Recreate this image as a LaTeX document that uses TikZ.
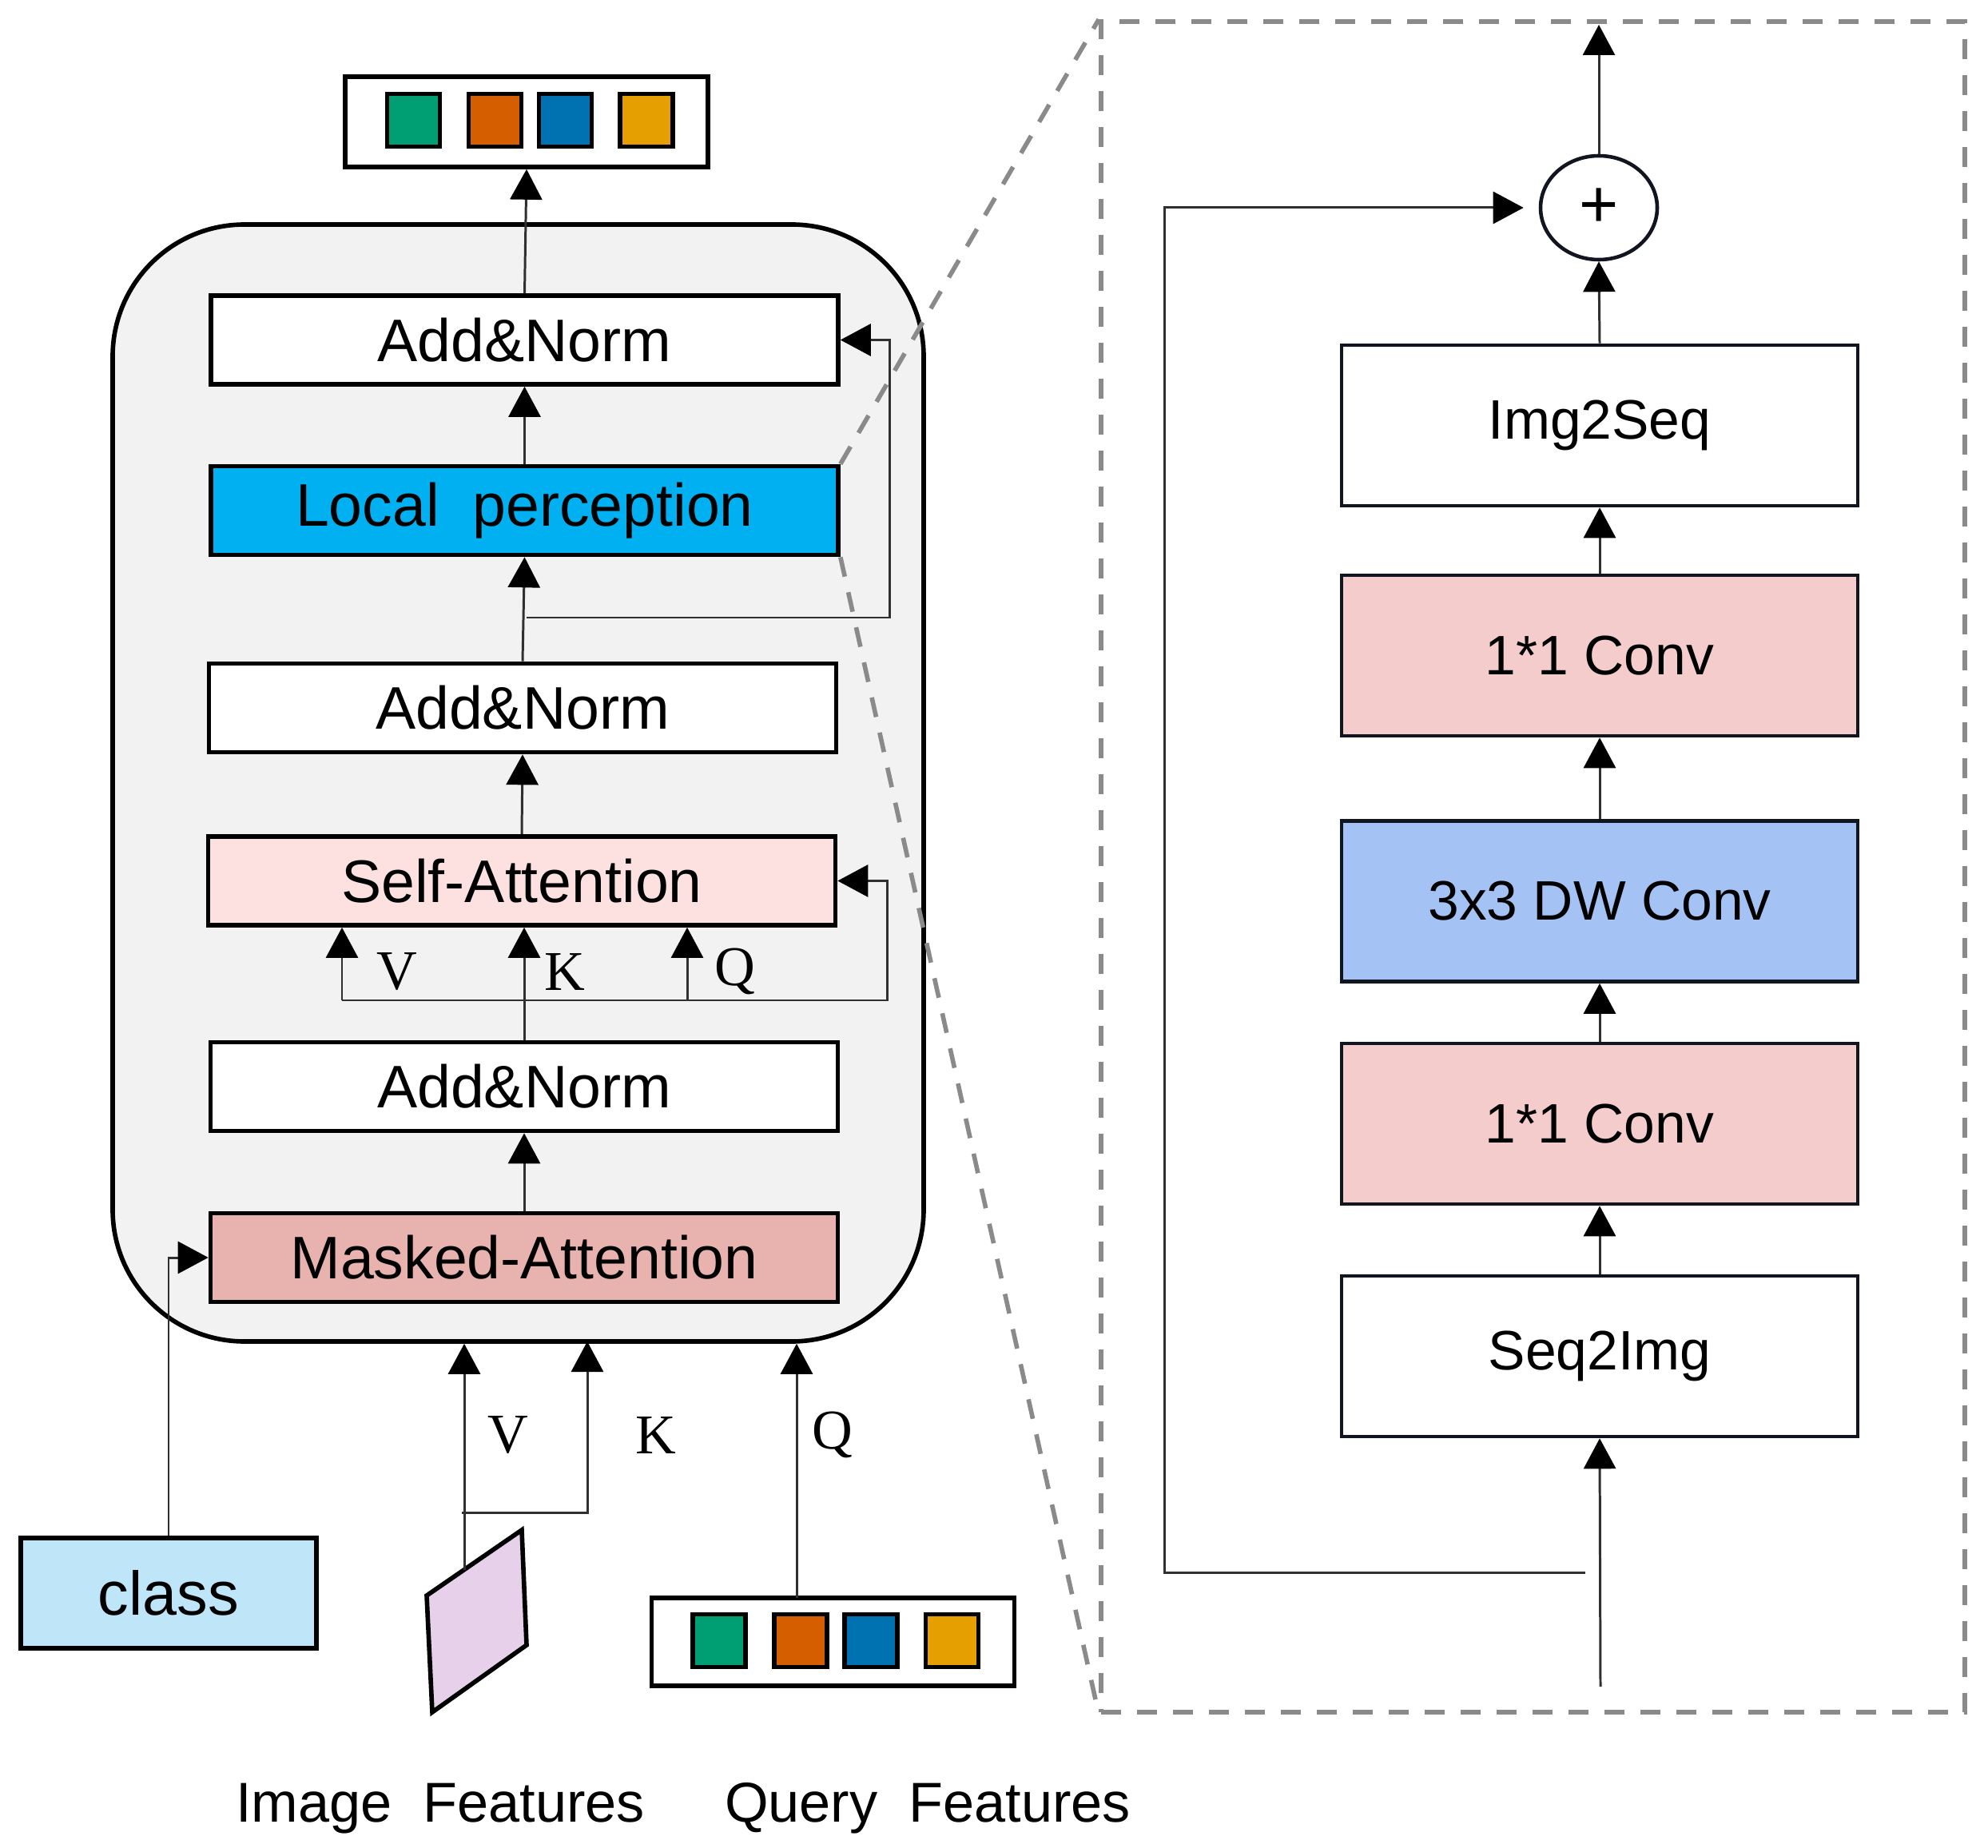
\documentclass[tikz,border=0pt]{standalone}
\usepackage{fontspec}
\setmainfont{Liberation Sans}
\newfontfamily\letterfont{Liberation Serif}
\usetikzlibrary{arrows.meta,shapes.geometric}

\definecolor{boxgray}{HTML}{F2F2F2}
\definecolor{lpcyan}{HTML}{00B0F0}
\definecolor{sapink}{HTML}{FDE0E0}
\definecolor{mapink}{HTML}{E8B2AF}
\definecolor{classblue}{HTML}{BEE5F8}
\definecolor{imgpurple}{HTML}{E7D1EA}
\definecolor{tokgreen}{HTML}{009E73}
\definecolor{tokorange}{HTML}{D55E00}
\definecolor{tokblue}{HTML}{0072B2}
\definecolor{tokyellow}{HTML}{E69F00}
\definecolor{convpink}{HTML}{F4CCCC}
\definecolor{dwblue}{HTML}{A4C2F4}
\definecolor{linecol}{HTML}{303030}
\definecolor{boxline}{HTML}{10151F}
\definecolor{zoomgray}{HTML}{8A8A8A}

\begin{document}
\begin{tikzpicture}[
>={Triangle[length=0.38cm,width=0.40cm,color=black]},
layer/.style={rectangle, draw, line width=1.6pt, minimum width=7.85cm, minimum height=1.11cm, inner sep=0pt, font=\fontsize{21.4}{25}\selectfont},
conv/.style={rectangle, draw=boxline, line width=1.3pt, minimum width=6.46cm, minimum height=2.01cm, inner sep=0pt, font=\fontsize{19.8}{23}\selectfont},
token/.style={rectangle, draw, line width=1.6pt, minimum size=0.66cm, inner sep=0pt},
tray/.style={rectangle, draw, line width=1.6pt, minimum width=4.54cm, minimum height=1.13cm},
link/.style={line width=0.85pt, draw=linecol},
zoomline/.style={draw=zoomgray, line width=1.6pt, dash pattern=on 0.25cm off 0.2cm},
letter/.style={font=\letterfont\fontsize{20}{24}\selectfont},
caption/.style={anchor=base, font=\fontsize{20}{24}\selectfont}
]
\useasboundingbox (0,0) rectangle (24.88,-23.13);

\node[draw, line width=1.6pt, fill=boxgray, rounded corners=1.65cm, minimum width=10.15cm, minimum height=13.98cm] (decoder) at (6.485,-9.80) {};

\node[tray] (outtray) at (6.59,-1.525) {};
\foreach \c/\x [count=\i] in {tokgreen/5.175, tokorange/6.195, tokblue/7.075, tokyellow/8.09}
  \node[token, fill=\c] (out\i) at (\x,-1.505) {};

\node[layer, fill=white] (an3) at (6.565,-4.255) {Add\&Norm};
\node[layer, fill=lpcyan] (lp) at (6.565,-6.39) {Local\ \ perception};
\node[layer, fill=white] (an2) at (6.54,-8.86) {Add\&Norm};
\node[layer, fill=sapink] (sa) at (6.53,-11.025) {Self-Attention};
\node[layer, fill=white] (an1) at (6.56,-13.60) {Add\&Norm};
\node[layer, fill=mapink] (ma) at (6.56,-15.74) {Masked-Attention};

\draw[link,->] (an3.north) -- (outtray.south);
\draw[link,->] (lp.north) -- (an3.south);
\draw[link,->] (an2.north) -- (lp.south);
\draw[link,->] (sa.north) -- (an2.south);
\draw[link,->] (ma.north) -- (an1.south);

\coordinate (res) at (6.59,-7.73);
\draw[link,->] (res) -- (11.13,-7.73) |- (an3.east);

\coordinate (vbase) at (4.28,-12.52);
\coordinate (qbase) at (8.60,-12.52);
\draw[link,->] (vbase) -- (11.10,-12.52) |- (sa.east);
\draw[link,->] (vbase) -- (vbase |- sa.south);
\draw[link,->] (qbase) -- (qbase |- sa.south);
\draw[link,->] (an1.north) -- (an1.north |- sa.south);
\node[letter] (sv) at (4.97,-12.16) {V};
\node[letter] (sk) at (7.07,-12.16) {K};
\node[letter] (sq) at (9.20,-12.16) {Q};

\node[draw, line width=1.6pt, fill=classblue, minimum width=3.70cm, minimum height=1.38cm, font=\fontsize{22}{26}\selectfont] (cls) at (2.11,-19.94) {class};
\draw[link,->] (cls.north) |- (ma.west);

\draw[line width=1.6pt, fill=imgpurple] (5.34,-19.97) -- (6.53,-19.15) -- (6.59,-20.59) -- (5.41,-21.43) -- cycle;
\coordinate (imgtop) at (5.81,-19.65);
\coordinate (kfork) at (5.78,-18.93);
\coordinate (kin) at (7.35,-16.79);
\draw[link,->] (imgtop) -- (imgtop |- decoder.south);
\draw[link,->] (kfork) -| (kin);

\node[tray, minimum height=1.10cm] (qtray) at (10.425,-20.55) {};
\foreach \c/\x [count=\i] in {tokgreen/9.00, tokorange/10.02, tokblue/10.90, tokyellow/11.915}
  \node[token, fill=\c] (q\i) at (\x,-20.535) {};
\coordinate (qin) at (9.97,-20.00);
\draw[link,->] (qin) -- (qin |- decoder.south);
\node[letter] (iv) at (6.36,-17.96) {V};
\node[letter] (ik) at (8.21,-17.96) {K};
\node[letter] (iq) at (10.42,-17.96) {Q};

\node[caption] (imgcap) at (5.51,-22.80) {Image\ \ Features};
\node[caption] (qcap) at (11.61,-22.80) {Query\ \ Features};

\node[zoomline, minimum width=10.81cm, minimum height=21.16cm] (zoombox) at (19.185,-10.85) {};
\draw[zoomline] (lp.north east) -- (zoombox.north west);
\draw[zoomline] (lp.south east) -- (zoombox.south west);

\node[conv, fill=white] (img2seq) at (20.02,-5.325) {Img2Seq};
\node[conv, fill=convpink] (conv2) at (20.02,-8.205) {1*1 Conv};
\node[conv, fill=dwblue] (dw) at (20.02,-11.28) {3x3 DW Conv};
\node[conv, fill=convpink] (conv1) at (20.02,-14.065) {1*1 Conv};
\node[conv, fill=white] (seq2img) at (20.02,-16.975) {Seq2Img};
\node[ellipse, draw=boxline, line width=1.3pt, minimum width=1.46cm, minimum height=1.30cm, inner sep=0pt, font=\fontsize{24}{28}\selectfont] (plus) at (20.01,-2.60) {+};

\coordinate (lpin) at (20.03,-21.11);
\coordinate (lpout) at (20.01,-0.31);
\coordinate (skip) at (19.84,-19.68);
\draw[link,->] (lpin) -- (seq2img.south);
\draw[link,->] (seq2img.north) -- (conv1.south);
\draw[link,->] (conv1.north) -- (dw.south);
\draw[link,->] (dw.north) -- (conv2.south);
\draw[link,->] (conv2.north) -- (img2seq.south);
\draw[link,->] (img2seq.north) -- (plus.south);
\draw[link,->] (plus.north) -- (lpout);
\draw[link,->,shorten >=0.19cm] (skip) -- (14.57,-19.68) |- (plus.west);
\end{tikzpicture}
\end{document}
